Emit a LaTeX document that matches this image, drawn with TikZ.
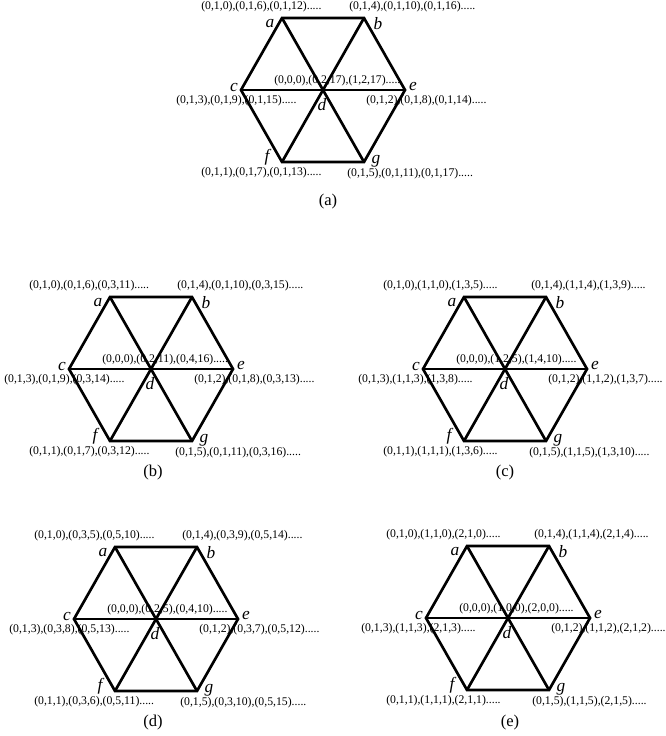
\documentclass[tikz,border=0pt]{standalone}
\usepackage{fontspec}
\setmainfont{Liberation Serif}
\tikzset{
  edge/.style={line width=2pt, line join=miter},
  vlet/.style={font=\fontsize{13}{13}\selectfont\itshape, inner sep=0pt},
  seq/.style={font=\fontsize{8.8}{9}\selectfont, inner sep=0pt, anchor=west},
  capt/.style={font=\fontsize{12.4}{13}\selectfont, inner sep=0pt},
}
\newcommand{\hexpanel}[7]{%
  \coordinate (a) at (-41,-72); \coordinate (b) at (41,-72);
  \coordinate (c) at (-82,0);   \coordinate (d) at (0,0);   \coordinate (e) at (82,0);
  \coordinate (f) at (-41,72);  \coordinate (g) at (41,72);
  \node[seq] (ta) at (-122,-83) {#1};
  \node[seq] (tb) at (26,-83) {#2};
  \node[seq] (td) at (-49,-9) {#3};
  \node[seq] (tc) at (-147,11) {#4};
  \node[seq] (te) at (43,11) {#5};
  \node[seq] (tf) at (-122,83) {#6};
  \node[seq] (tg) at (24,84) {#7};
  \node[vlet] (la) at (-53,-66) {a};
  \node[vlet] (lb) at (55,-66) {b};
  \node[vlet] (lc) at (-89,-3) {c};
  \node[vlet] (le) at (90,-4) {e};
  \node[vlet] (ld) at (-1,15) {d};
  \node[vlet] (lf) at (-56,67) {f};
  \node[vlet] (lg) at (53,71) {g};
  \draw[edge] (c) -- (a) -- (b) -- (e) -- (g) -- (f) -- cycle;
  \draw[edge] (c) -- (e);
  \draw[edge] (a) -- (d) -- (g);
  \draw[edge] (b) -- (d) -- (f);
}
\begin{document}
\begin{tikzpicture}[x=0.75pt, y=-0.75pt]
\useasboundingbox (0,0) rectangle (665,736);
\begin{scope}[shift={(323,90)}, name prefix=pa-]
\hexpanel{(0,1,0),(0,1,6),(0,1,12).....}{(0,1,4),(0,1,10),(0,1,16).....}{(0,0,0),(0,2,17),(1,2,17).....}{(0,1,3),(0,1,9),(0,1,15).....}{(0,1,2),(0,1,8),(0,1,14).....}{(0,1,1),(0,1,7),(0,1,13).....}{(0,1,5),(0,1,11),(0,1,17).....}
\end{scope}
\begin{scope}[shift={(151,369)}, name prefix=pb-]
\hexpanel{(0,1,0),(0,1,6),(0,3,11).....}{(0,1,4),(0,1,10),(0,3,15).....}{(0,0,0),(0,2,11),(0,4,16).....}{(0,1,3),(0,1,9),(0,3,14).....}{(0,1,2),(0,1,8),(0,3,13).....}{(0,1,1),(0,1,7),(0,3,12).....}{(0,1,5),(0,1,11),(0,3,16).....}
\end{scope}
\begin{scope}[shift={(505,369)}, name prefix=pc-]
\hexpanel{(0,1,0),(1,1,0),(1,3,5).....}{(0,1,4),(1,1,4),(1,3,9).....}{(0,0,0),(1,2,5),(1,4,10).....}{(0,1,3),(1,1,3),(1,3,8).....}{(0,1,2),(1,1,2),(1,3,7).....}{(0,1,1),(1,1,1),(1,3,6).....}{(0,1,5),(1,1,5),(1,3,10).....}
\end{scope}
\begin{scope}[shift={(156,619)}, name prefix=pd-]
\hexpanel{(0,1,0),(0,3,5),(0,5,10).....}{(0,1,4),(0,3,9),(0,5,14).....}{(0,0,0),(0,2,5),(0,4,10).....}{(0,1,3),(0,3,8),(0,5,13).....}{(0,1,2),(0,3,7),(0,5,12).....}{(0,1,1),(0,3,6),(0,5,11).....}{(0,1,5),(0,3,10),(0,5,15).....}
\end{scope}
\begin{scope}[shift={(508,618)}, name prefix=pe-]
\hexpanel{(0,1,0),(1,1,0),(2,1,0).....}{(0,1,4),(1,1,4),(2,1,4).....}{(0,0,0),(1,0,0),(2,0,0).....}{(0,1,3),(1,1,3),(2,1,3).....}{(0,1,2),(1,1,2),(2,1,2).....}{(0,1,1),(1,1,1),(2,1,1).....}{(0,1,5),(1,1,5),(2,1,5).....}
\end{scope}
\node[capt] (capa) at (328,202) {(a)};
\node[capt] (capb) at (153,473) {(b)};
\node[capt] (capc) at (505,473) {(c)};
\node[capt] (capd) at (153,723) {(d)};
\node[capt] (cape) at (510,723) {(e)};
\end{tikzpicture}
\end{document}
